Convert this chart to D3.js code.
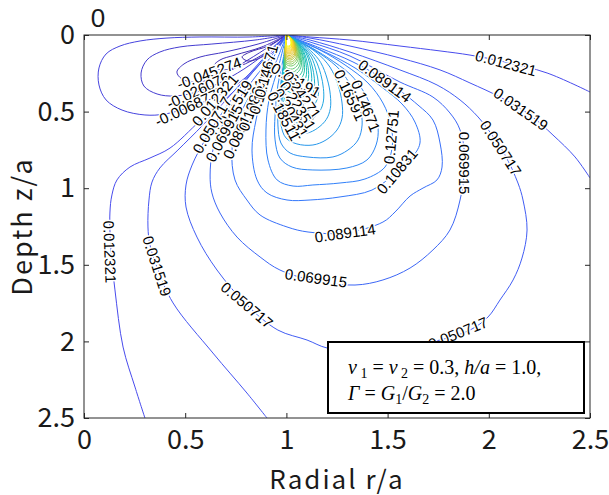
<!DOCTYPE html>
<html>
<head>
<meta charset="utf-8">
<script src="https://cdn.jsdelivr.net/npm/d3@7"></script>
<style>
  body { margin: 0; background: #fff; }
  svg { display: block; }
</style>
</head>
<body>
<svg id="chart" width="609" height="495"></svg>
<script>
// contour levels go in steps of 0.019198, lines as [r/a, z/a]
const lvlMin = -0.083669;
const lvlMax = 0.72267;

// negative loops, top left of the load ring
const cNeg5 = [[1,0],[0.909,0.072],[0.820,0.111],[0.781,0.144],[0.810,0.170],[0.879,0.144],[0.958,0.072],[1,0]];
const cNeg4 = [[1,0],[0.879,0.078],[0.746,0.131],[0.672,0.163],[0.642,0.202],[0.682,0.228],[0.771,0.202],[0.879,0.131],[0.958,0.059],[1,0]];
const cNeg3 = [[1,0],[0.860,0.059],[0.697,0.111],[0.573,0.144],[0.494,0.189],[0.459,0.242],[0.484,0.287],[0.563,0.307],[0.682,0.261],[0.810,0.163],[0.919,0.072],[1,0]];
const cNeg2 = [[1,0],[0.845,0.033],[0.632,0.059],[0.474,0.078],[0.375,0.111],[0.311,0.163],[0.282,0.248],[0.296,0.333],[0.361,0.385],[0.450,0.398],[0.573,0.366],[0.697,0.294],[0.820,0.196],[0.929,0.085],[1,0]];
const cNeg1 = [[1,0],[0.820,0.013],[0.573,0.013],[0.410,0.020],[0.277,0.039],[0.178,0.072],[0.109,0.124],[0.074,0.215],[0.074,0.326],[0.109,0.424],[0.188,0.490],[0.301,0.522],[0.400,0.516],[0.524,0.470],[0.647,0.405],[0.771,0.307],[0.879,0.176],[0.968,0.065],[1,0]];

// 0.012321 and 0.031519 leave the plot, so two branches each
const cP0Right = [[1,0],[1.117,0.013],[1.314,0.033],[1.561,0.072],[1.759,0.104],[1.907,0.131],[2.080,0.176],[2.288,0.248],[2.5,0.372]];
const cP0Left = [[0.301,2.5],[0.252,2.298],[0.193,2.037],[0.153,1.664],[0.133,1.403],[0.128,1.162],[0.138,1.044],[0.163,0.946],[0.227,0.862],[0.326,0.803],[0.425,0.738],[0.573,0.561],[0.731,0.379],[0.870,0.189],[1,0]];
const cP1Right = [[1,0],[1.117,0.020],[1.314,0.072],[1.561,0.150],[1.759,0.228],[1.907,0.313],[2.055,0.405],[2.204,0.522],[2.317,0.653],[2.426,0.796],[2.5,0.933]];
const cP1Left = [[0.904,2.5],[0.805,2.337],[0.637,2.076],[0.440,1.749],[0.366,1.534],[0.326,1.371],[0.316,1.253],[0.321,1.077],[0.336,0.960],[0.375,0.868],[0.464,0.751],[0.588,0.587],[0.746,0.359],[0.879,0.163],[1,0]];

// closed positive loops hanging below the ring
const cP2 = [[1,0],[1.117,0.033],[1.314,0.111],[1.561,0.228],[1.744,0.326],[1.858,0.424],[1.947,0.535],[2.016,0.653],[2.080,0.783],[2.144,0.966],[2.169,1.077],[2.189,1.273],[2.164,1.456],[2.120,1.599],[2.055,1.730],[1.996,1.841],[1.907,1.926],[1.759,1.991],[1.561,2.037],[1.364,2.056],[1.201,2.043],[1.102,1.991],[0.958,1.926],[0.805,1.762],[0.657,1.534],[0.558,1.319],[0.504,1.123],[0.504,0.979],[0.534,0.849],[0.598,0.685],[0.682,0.509],[0.771,0.346],[0.894,0.150],[1,0]];
const cP3 = [[1,0],[1.117,0.046],[1.314,0.137],[1.561,0.307],[1.724,0.405],[1.808,0.509],[1.858,0.620],[1.882,0.836],[1.858,1.077],[1.808,1.273],[1.724,1.403],[1.611,1.521],[1.477,1.599],[1.339,1.632],[1.146,1.606],[0.968,1.534],[0.870,1.449],[0.756,1.319],[0.672,1.162],[0.632,1.031],[0.623,0.914],[0.637,0.751],[0.697,0.555],[0.805,0.346],[0.919,0.150],[1,0]];
const cP4 = [[1,0],[1.166,0.085],[1.329,0.176],[1.487,0.294],[1.650,0.457],[1.724,0.555],[1.759,0.705],[1.769,0.862],[1.744,0.946],[1.675,0.999],[1.611,1.051],[1.537,1.155],[1.477,1.221],[1.290,1.292],[1.107,1.286],[1.003,1.253],[0.870,1.175],[0.805,1.077],[0.746,0.946],[0.731,0.751],[0.761,0.555],[0.840,0.346],[0.934,0.150],[1,0]];
const cP5 = [[1,0],[1.191,0.111],[1.339,0.215],[1.477,0.346],[1.571,0.450],[1.635,0.568],[1.660,0.705],[1.611,0.816],[1.546,0.894],[1.423,1.012],[1.265,1.057],[1.117,1.077],[1.003,1.077],[0.904,1.031],[0.855,0.946],[0.830,0.751],[0.850,0.555],[0.889,0.359],[0.953,0.163],[1,0]];
const cP6 = [[1,0],[1.166,0.098],[1.290,0.196],[1.403,0.313],[1.477,0.444],[1.517,0.587],[1.522,0.738],[1.487,0.862],[1.388,0.940],[1.265,0.966],[1.131,0.979],[1.033,0.986],[0.954,0.946],[0.909,0.816],[0.899,0.620],[0.914,0.424],[0.963,0.196],[1,0]];
const cP7 = [[1,0],[1.092,0.059],[1.206,0.150],[1.314,0.255],[1.383,0.372],[1.428,0.503],[1.453,0.607],[1.443,0.718],[1.398,0.816],[1.299,0.868],[1.131,0.881],[1.028,0.862],[0.968,0.803],[0.944,0.685],[0.944,0.522],[0.958,0.326],[0.983,0.163],[1,0]];
const cP8 = [[1,0],[1.077,0.052],[1.176,0.131],[1.265,0.228],[1.324,0.346],[1.364,0.476],[1.374,0.587],[1.354,0.685],[1.304,0.751],[1.230,0.796],[1.102,0.796],[1.018,0.770],[0.973,0.705],[0.958,0.587],[0.963,0.424],[0.978,0.261],[0.993,0.131],[1,0]];
const cP9 = [[1,0],[1.067,0.046],[1.151,0.117],[1.215,0.209],[1.255,0.326],[1.275,0.444],[1.275,0.542],[1.250,0.620],[1.196,0.685],[1.131,0.718],[1.052,0.711],[0.998,0.672],[0.973,0.587],[0.968,0.457],[0.978,0.294],[0.993,0.150],[1,0]];

const tracedLevels = [-0.083669, -0.064471, -0.045274, -0.026076, -0.0068777,
  0.012321, 0.012321, 0.031519, 0.031519, 0.050717, 0.069915, 0.089114,
  0.10831, 0.12751, 0.14671, 0.16591, 0.18511];
const tracedLines = [cNeg5, cNeg4, cNeg3, cNeg2, cNeg1, cP0Right, cP0Left, cP1Right, cP1Left,
  cP2, cP3, cP4, cP5, cP6, cP7, cP8, cP9];

// small loops near the singular point: width (r/a) and depth (z/a) of each, one outline shape
const coreLevels = [0.20431, 0.22351, 0.24271, 0.26191, 0.28110, 0.30030, 0.31950, 0.33870, 0.35790, 0.37709,
  0.39629, 0.41549, 0.43469, 0.45389, 0.47309, 0.49229, 0.51148, 0.53068, 0.54988, 0.56908,
  0.58828, 0.60748, 0.62668, 0.64587, 0.66507, 0.68427, 0.70347, 0.72267];
const coreWidth = [0.217, 0.183, 0.158, 0.138, 0.124, 0.109, 0.099, 0.089, 0.082, 0.074,
  0.069, 0.064, 0.059, 0.054, 0.051, 0.047, 0.044, 0.042, 0.039, 0.037,
  0.035, 0.033, 0.031, 0.029, 0.027, 0.026, 0.024, 0.023];
const coreDepth = [0.640, 0.574, 0.516, 0.463, 0.418, 0.379, 0.346, 0.313, 0.287, 0.261,
  0.242, 0.222, 0.202, 0.189, 0.176, 0.163, 0.153, 0.144, 0.134, 0.124,
  0.117, 0.111, 0.104, 0.098, 0.091, 0.085, 0.078, 0.072];
const coreShape = [[0,0],[0.24,0.055],[0.55,0.16],[0.78,0.28],[0.93,0.45],[1,0.61],[1,0.75],[0.91,0.86],
  [0.71,0.95],[0.47,1],[0.18,0.99],[-0.02,0.94],[-0.11,0.82],[-0.13,0.63],[-0.09,0.40],[-0.04,0.20],[0,0]];

// inline contour labels: text, r/a, z/a, angle
const contourLabels = [
  ["0.012321", 2.085, 0.183, 15], ["0.031519", 2.159, 0.483, 35], ["0.050717", 2.060, 0.738, 57],
  ["0.069915", 1.882, 0.836, 90], ["0.089114", 1.487, 0.300, 36], ["0.16591", 1.314, 0.392, 65],
  ["0.14671", 1.393, 0.463, 68], ["0.12751", 1.517, 0.666, -85], ["0.10831", 1.546, 0.888, -50],
  ["0.089114", 1.290, 1.292, -8], ["0.069915", 1.146, 1.586, 8], ["0.050717", 1.848, 1.945, -22],
  ["0.050717", 0.805, 1.762, 40], ["0.031519", 0.361, 1.508, 72], ["0.012321", 0.128, 1.416, 88],
  ["-0.045274", 0.618, 0.248, -20], ["-0.026076", 0.563, 0.359, -25], ["-0.0068777", 0.524, 0.463, -25],
  ["0.012321", 0.647, 0.424, -50], ["0.031519", 0.731, 0.477, -58], ["0.050717", 0.632, 0.587, -60],
  ["0.069915", 0.692, 0.640, -62], ["0.089114", 0.771, 0.620, -65], ["0.10831", 0.830, 0.457, -70],
  ["0.12751", 0.879, 0.346, -72], ["0.14671", 0.899, 0.235, -75], ["0.26191", 1.047, 0.294, 30],
  ["0.24271", 1.077, 0.392, 55], ["0.22351", 1.057, 0.463, 58], ["0.20431", 1.023, 0.509, 60],
  ["0.18511", 0.988, 0.529, 62]
];

const xTicks = [0, 0.5, 1, 1.5, 2, 2.5];
const xTickLabels = ["0", "0.5", "1", "1.5", "2", "2.5"];
const yTicks = [0, 0.5, 1, 1.5, 2, 2.5];
const yTickLabels = ["0", "0.5", "1", "1.5", "2", "2.5"];

// parula colour stops
const parula = ["#3e26a8", "#484df0", "#327cfc", "#20a5e3", "#19bfb6", "#64cd6f", "#d1bf27", "#fccf30", "#f9fb15"];

let svg = d3.select("#chart");
let x = d3.scaleLinear().domain([0, 2.5]).range([84, 590]);
let y = d3.scaleLinear().domain([0, 2.5]).range([35, 418]);
let color = d3.scaleLinear()
    .domain(parula.map((c, i) => lvlMin + i / (parula.length - 1) * (lvlMax - lvlMin)))
    .range(parula);

svg.append("defs").append("clipPath").attr("id", "plot")
    .append("rect")
    .attr("x", x(0)).attr("y", y(0))
    .attr("width", x(2.5) - x(0)).attr("height", y(2.5) - y(0));

let line = d3.line()
    .x(d => x(d[0]))
    .y(d => y(d[1]))
    .curve(d3.curveCatmullRom.alpha(0.5));

let contours = tracedLevels.map((lv, i) => ({level: lv, pts: tracedLines[i]}));
coreLevels.forEach(function (lv, i) {
    contours.push({
        level: lv,
        pts: coreShape.map(p => [1 + p[0] * coreWidth[i], p[1] * coreDepth[i]])
    });
});

let plot = svg.append("g").attr("clip-path", "url(#plot)");
plot.selectAll("path")
    .data(contours)
    .enter()
    .append("path")
    .attr("d", d => line(d.pts))
    .attr("fill", "none")
    .attr("stroke", d => color(d.level))
    .attr("stroke-width", 1);

plot.append("g").selectAll("text")
    .data(contourLabels)
    .enter()
    .append("text")
    .attr("transform", d => "translate(" + x(d[1]) + "," + y(d[2]) + ") rotate(" + d[3] + ")")
    .attr("text-anchor", "middle")
    .attr("dominant-baseline", "central")
    .style("font-family", "'Liberation Sans', Arial, sans-serif")
    .style("font-size", "15px")
    .style("fill", "#000")
    .style("stroke", "#fff")
    .style("stroke-width", 3)
    .style("paint-order", "stroke")
    .text(d => d[0]);

// axes, ticks inside on all four sides
let tickFont = "'Noto Sans CJK JP', 'Noto Sans', sans-serif";
let axisColor = "#262626";

let gx = svg.append("g").attr("transform", "translate(0," + y(2.5) + ")")
    .call(d3.axisBottom(x).tickValues(xTicks).tickFormat((d, i) => xTickLabels[i])
        .tickSizeInner(-5).tickSizeOuter(0).tickPadding(12));
let gy = svg.append("g").attr("transform", "translate(" + x(0) + ",0)")
    .call(d3.axisLeft(y).tickValues(yTicks).tickFormat((d, i) => yTickLabels[i])
        .tickSizeInner(-5).tickSizeOuter(0).tickPadding(9));
let gt = svg.append("g").attr("transform", "translate(0," + y(0) + ")")
    .call(d3.axisTop(x).tickValues(xTicks).tickFormat("").tickSizeInner(-5).tickSizeOuter(0));
let gr = svg.append("g").attr("transform", "translate(" + x(2.5) + ",0)")
    .call(d3.axisRight(y).tickValues(yTicks).tickFormat("").tickSizeInner(-5).tickSizeOuter(0));

[gx, gy, gt, gr].forEach(function (g) {
    g.select(".domain").remove();
    g.selectAll("line").attr("stroke", axisColor);
    g.selectAll("text")
        .style("font-family", tickFont)
        .style("font-size", "27px")
        .style("fill", "#1a1a1a");
});

svg.append("rect")
    .attr("x", x(0)).attr("y", y(0))
    .attr("width", x(2.5) - x(0)).attr("height", y(2.5) - y(0))
    .attr("fill", "none")
    .attr("stroke", axisColor)
    .attr("stroke-width", 1);

// stray "0" above the top left corner
svg.append("text")
    .attr("x", 98).attr("y", 27)
    .attr("text-anchor", "middle")
    .style("font-family", "'Liberation Sans', Arial, sans-serif")
    .style("font-size", "26px")
    .style("fill", "#1a1a1a")
    .text("0");

svg.append("text")
    .attr("x", (x(0) + x(2.5)) / 2).attr("y", 489)
    .attr("text-anchor", "middle")
    .style("font-family", tickFont)
    .style("font-size", "26px")
    .style("letter-spacing", "2px")
    .style("fill", "#1a1a1a")
    .text("Radial r/a");

svg.append("text")
    .attr("transform", "translate(32," + (y(0) + y(2.5)) / 2 + ") rotate(-90)")
    .attr("text-anchor", "middle")
    .style("font-family", tickFont)
    .style("font-size", "27px")
    .style("letter-spacing", "2px")
    .style("fill", "#1a1a1a")
    .text("Depth z/a");

// parameter box
let legend = svg.append("g");
legend.append("rect")
    .attr("x", 328).attr("y", 342)
    .attr("width", 256).attr("height", 71)
    .attr("fill", "#fff")
    .attr("stroke", "#000")
    .attr("stroke-width", 2);

let serif = "'Liberation Serif', 'Times New Roman', serif";
let t1 = legend.append("text").attr("x", 348).attr("y", 374)
    .style("font-family", serif).style("font-size", "20px").style("fill", "#000");
t1.append("tspan").style("font-style", "italic").text("ν");
t1.append("tspan").attr("dy", 4).style("font-size", "14px").text(" 1");
t1.append("tspan").attr("dy", -4).text(" = ");
t1.append("tspan").style("font-style", "italic").text("ν");
t1.append("tspan").attr("dy", 4).style("font-size", "14px").text(" 2");
t1.append("tspan").attr("dy", -4).text(" = 0.3, ");
t1.append("tspan").style("font-style", "italic").text("h/a");
t1.append("tspan").text(" = 1.0,");

let t2 = legend.append("text").attr("x", 348).attr("y", 400)
    .style("font-family", serif).style("font-size", "20px").style("fill", "#000");
t2.append("tspan").style("font-style", "italic").text("Γ");
t2.append("tspan").text(" = ");
t2.append("tspan").style("font-style", "italic").text("G");
t2.append("tspan").attr("dy", 4).style("font-size", "14px").text("1");
t2.append("tspan").attr("dy", -4).text("/");
t2.append("tspan").style("font-style", "italic").text("G");
t2.append("tspan").attr("dy", 4).style("font-size", "14px").text("2");
t2.append("tspan").attr("dy", -4).text(" = 2.0");
</script>
</body>
</html>
